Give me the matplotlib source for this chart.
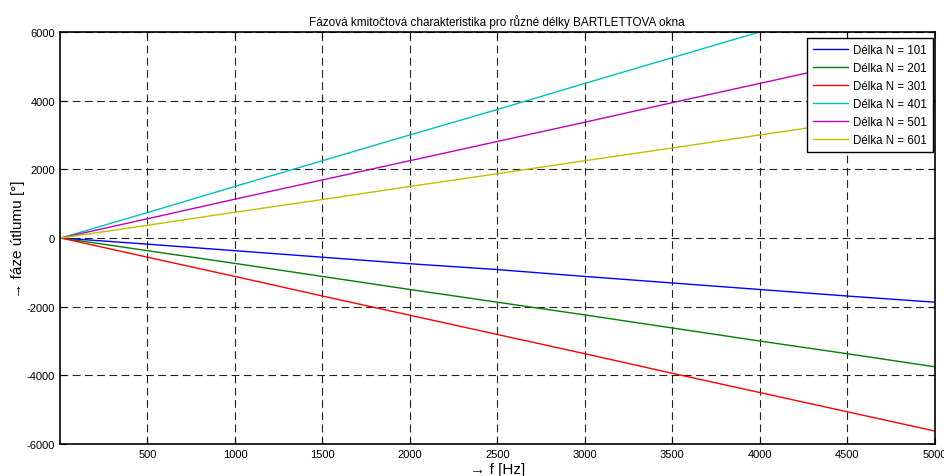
import numpy as np
import matplotlib
matplotlib.use('Agg')
import matplotlib.pyplot as plt

plt.rcParams['font.family'] = ['Liberation Sans', 'DejaVu Sans']
plt.rcParams['axes.unicode_minus'] = False

# frekvence [Hz]
freq = [5, 500, 1000, 1500, 2000, 2500, 3000, 3500, 4000, 4500, 5000]

# faze [deg] pro jednotlive delky okna
phase_101 = [0, -180, -370, -560, -750, -920, -1120, -1310, -1500, -1690, -1870]
phase_201 = [0, -370, -740, -1120, -1500, -1870, -2240, -2620, -3000, -3370, -3750]
phase_301 = [0, -560, -1120, -1690, -2250, -2810, -3370, -3940, -4500, -5060, -5620]
phase_401 = [0, 740, 1500, 2250, 3000, 3740, 4500, 5250, 6000, 6750, 7500]
phase_501 = [0, 560, 1130, 1690, 2250, 2810, 3370, 3940, 4500, 5060, 5620]
phase_601 = [0, 370, 750, 1120, 1500, 1870, 2250, 2620, 3000, 3370, 3750]

labels = ['Délka N = 101', 'Délka N = 201', 'Délka N = 301',
          'Délka N = 401', 'Délka N = 501', 'Délka N = 601']
colors = ['#0000ff', '#007f00', '#ff0000', '#00bfbf', '#bf00bf', '#bfbf00']
series = [phase_101, phase_201, phase_301, phase_401, phase_501, phase_601]

fig = plt.figure(figsize=(9.45, 4.77), dpi=100)
ax = fig.add_axes([0.0635, 0.067, 0.9255, 0.864])

for ph, lab, col in zip(series, labels, colors):
    ax.plot(freq, ph, color=col, lw=1.0, label=lab)

ax.set_xlim(0, 5000)
ax.set_ylim(-6000, 6000)
ax.set_xticks(range(500, 5001, 500))
ax.set_yticks(range(-6000, 6001, 2000))
ax.tick_params(direction='in', top=True, right=True, labelsize=8, length=4)
ax.grid(True, color='#222222', linestyle=(0, (7, 4)), lw=0.8)
for s in ax.spines.values():
    s.set_linewidth(1.2)

ax.set_title('Fázová kmitočtová charakteristika pro různé délky BARTLETTOVA okna',
             fontsize=8.5, pad=5)
ax.set_xlabel('→ f [Hz]', fontsize=11, labelpad=2)
ax.set_ylabel('→ fáze útlumu [°]', fontsize=11, labelpad=1)

leg = ax.legend(loc='upper right', bbox_to_anchor=(0.998, 0.985), fontsize=8.3,
                fancybox=False, framealpha=1, edgecolor='black',
                borderaxespad=0, handlelength=3.0, labelspacing=0.52,
                borderpad=0.5, handletextpad=0.5)
leg.get_frame().set_linewidth(1.0)

fig.savefig('out.png', dpi=100)
